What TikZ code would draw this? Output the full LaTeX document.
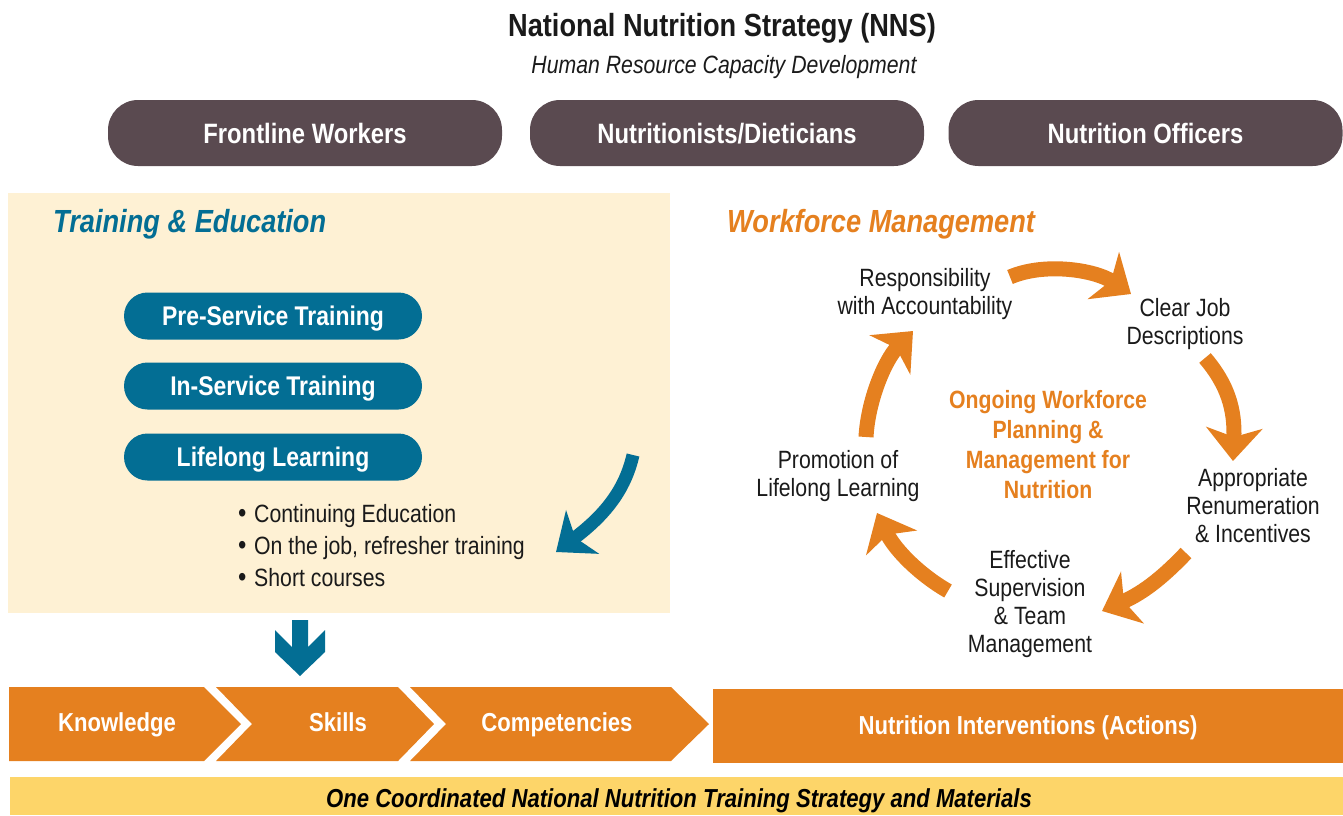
\documentclass[tikz,border=0pt]{standalone}
\usepackage{fontspec}
\setmainfont{Liberation Sans}[FakeStretch=0.85]
\usetikzlibrary{arrows.meta}
\definecolor{role}{HTML}{5A4A50}
\definecolor{train}{HTML}{036E94}
\definecolor{panel}{HTML}{FEF1D4}
\definecolor{mgmt}{HTML}{E5801F}
\definecolor{base}{HTML}{FDD569}
\definecolor{ink}{HTML}{1A1A1A}
\newcommand{\dotitem}{\makebox[16pt][l]{\fontsize{28}{32}\selectfont•}}
\tikzset{role/.style={text=white,fill=role,rounded corners=30pt,minimum width=394pt,minimum height=66pt,text height=20pt,text depth=0pt,font=\fontsize{28}{30}\selectfont\bfseries}}
\tikzset{course/.style={text=white,fill=train,rounded corners=23.5pt,minimum width=298pt,minimum height=47pt,text height=19.5pt,text depth=0pt,font=\fontsize{27}{30}\selectfont\bfseries}}
\tikzset{item/.style={text=ink,align=center,inner sep=0pt,font=\fontsize{25}{28}\selectfont}}
\tikzset{stage/.style={text=white,inner sep=0pt,text height=19pt,text depth=0pt,font=\fontsize{26}{28}\selectfont\bfseries}}
\tikzset{heading/.style={anchor=west,inner sep=0pt,font=\fontsize{32}{34}\selectfont\bfseries\itshape}}
\tikzset{loopflow/.style={mgmt,line width=15pt,-{Stealth[length=33pt,width=56pt,inset=9pt]}}}

\begin{document}
\begin{tikzpicture}[x=1pt,y=-1pt]
    \useasboundingbox (0,0) rectangle (1343,815);

    \node[text=ink,font=\fontsize{32}{34}\selectfont\bfseries] (title) at (722,28) {National Nutrition Strategy (NNS)};
    \node[text=ink,font=\fontsize{25}{28}\selectfont\itshape] (subtitle) at (724,67) {Human Resource Capacity Development};

    \node[role] (fw) at (305,133) {Frontline Workers};
    \node[role] (nd) at (727,133) {Nutritionists/Dieticians};
    \node[role] (no) at (1145.5,133) {Nutrition Officers};

    % training panel
    \fill[panel] (8,193) rectangle (670,613);
    \node[heading,text=train] (te) at (53,224) {Training \& Education};

    \node[course] (pre) at (273,316) {Pre-Service Training};
    \node[course] (ins) at (273,386) {In-Service Training};
    \node[course] (lll) at (273,457) {Lifelong Learning};

    \node[item,anchor=west,align=left,font=\fontsize{25}{32}\selectfont] (extras) at (238,546) {\dotitem Continuing Education\\\dotitem On the job, refresher training\\\dotitem Short courses};

    \coordinate (lp) at (633,455);
    \coordinate (lq) at (556,552);
    \draw[train,line width=13pt,-{Stealth[length=33pt,width=54pt,inset=9pt]}] (lp) .. controls (625,490) and (605,515) .. (lq);

    \fill[train] (292,620) -- (308,620) -- (308,647) -- (325,630) -- (325,652) -- (300,676)
        -- (275,652) -- (275,630) -- (292,647) -- cycle;

    % workforce cycle
    \node[heading,text=mgmt] (wm) at (727,224) {Workforce Management};

    \node[item] (resp) at (925,294) {Responsibility\\with Accountability};
    \node[item] (jobs) at (1185,324) {Clear Job\\Descriptions};
    \node[item] (pay) at (1253,506) {Appropriate\\Renumeration\\\& Incentives};
    \node[item] (superv) at (1030,604) {Effective\\Supervision\\\& Team\\Management};
    \node[item] (promo) at (838,476) {Promotion of\\Lifelong Learning};
    \node[item,text=mgmt,font=\fontsize{25}{30}\selectfont\bfseries] (core) at (1048,445) {Ongoing Workforce\\Planning \&\\Management for\\Nutrition};

    \coordinate (resp-out) at (1010,277);
    \coordinate (jobs-in) at (1131,294);
    \coordinate (jobs-out) at (1205,358);
    \coordinate (pay-in) at (1233,461);
    \coordinate (pay-out) at (1186,553);
    \coordinate (superv-in) at (1102,611);
    \coordinate (superv-out) at (948,591);
    \coordinate (promo-in) at (877,513);
    \coordinate (promo-out) at (866,437);
    \coordinate (resp-in) at (913,331);

    \draw[loopflow] (resp-out) .. controls (1045,262) and (1095,270) .. (jobs-in);
    \draw[loopflow] (jobs-out) .. controls (1228,385) and (1235,410) .. (pay-in);
    \draw[loopflow] (pay-out) .. controls (1165,575) and (1145,592) .. (superv-in);
    \draw[loopflow] (superv-out) .. controls (920,575) and (895,550) .. (promo-in);
    \draw[loopflow] (promo-out) .. controls (868,400) and (885,360) .. (resp-in);

    % outcome chain
    \fill[mgmt] (9,687) -- (204,687) -- (241,724) -- (204,761) -- (9,761) -- cycle;
    \fill[mgmt] (216,687) -- (398,687) -- (434,724) -- (398,761) -- (216,761) -- (252,724) -- cycle;
    \fill[mgmt] (410,687) -- (671,687) -- (709,724) -- (671,761) -- (410,761) -- (446,724) -- cycle;
    \fill[mgmt] (713,689) rectangle (1343,763);
    \node[stage] (know) at (117,722) {Knowledge};
    \node[stage] (skill) at (338,722) {Skills};
    \node[stage] (comp) at (557,722) {Competencies};
    \node[stage] (act) at (1028,725) {Nutrition Interventions (Actions)};

    \fill[base] (10,777) rectangle (1343,815);
    \node[text=black,inner sep=0pt,text height=19pt,text depth=0pt,font=\fontsize{26}{28}\selectfont\bfseries\itshape] (plan) at (679,798) {One Coordinated National Nutrition Training Strategy and Materials};
\end{tikzpicture}
\end{document}
